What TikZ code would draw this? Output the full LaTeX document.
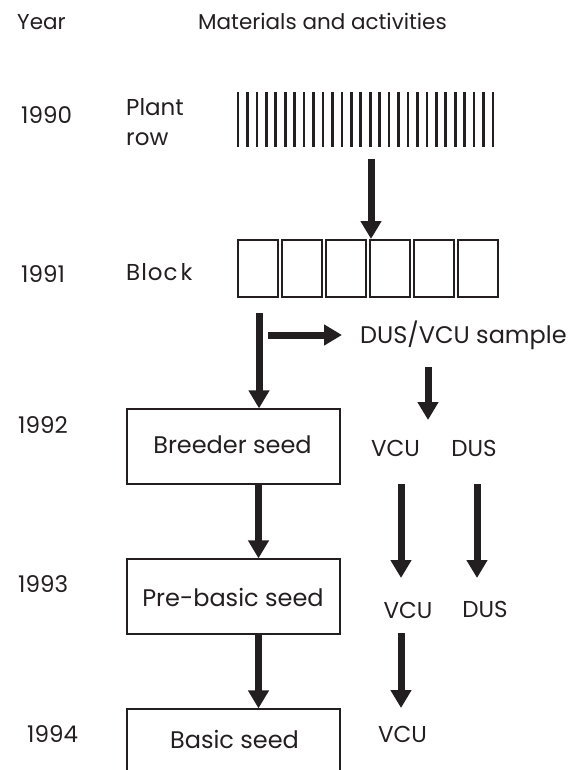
\documentclass[tikz,border=0pt]{standalone}
\usepackage{fontspec}
\setmainfont{Poppins}
\usetikzlibrary{arrows.meta}
\definecolor{ink}{HTML}{231F20}
\begin{document}
\begin{tikzpicture}[x=1pt,y=-1pt,
  lbl/.style={anchor=base west, inner sep=0pt, text=ink, font=\fontsize{23}{26}\selectfont},
  head/.style={anchor=base west, inner sep=0pt, text=ink, font=\fontsize{21.5}{26}\selectfont},
  txt/.style={anchor=base, inner sep=0pt, text=ink, font=\fontsize{23}{26}\selectfont},
  seedbox/.style={draw=ink, line width=1.3pt, minimum width=213pt, minimum height=75pt, inner sep=0pt},
  blockbox/.style={draw=ink, line width=2pt, minimum width=40pt, minimum height=57pt, inner sep=0pt},
  rowline/.style={draw=ink, line width=2.6pt},
  bigarrow/.style={draw=ink, line width=7pt, -{Triangle[width=20pt,length=18pt]}},
]
\useasboundingbox (0,0) rectangle (581,770);
\clip (0,0) rectangle (581,770);

% headings
\node[head] (year) at (17,30) {Year};
\node[head] (mat) at (198,30) {Materials and activities};

% year labels
\node[lbl] (y90) at (21,124) {1990};
\node[lbl] (y91) at (21,282) {1991};
\node[lbl] (y92) at (18,433) {1992};
\node[lbl] (y93) at (18,592) {1993};
\node[lbl] (y94) at (27,742) {1994};

% row labels
\node[lbl] (plant) at (126,116) {Plant};
\node[lbl] (row) at (126,146) {row};
\node[lbl] (block) at (126,280) {B\kern1pt l\kern1pt o\kern1pt c\kern3pt k};

% plant rows
\foreach \i in {0,...,27} \draw[rowline] ({238+\i*9.444},92) -- ({238+\i*9.444},147);
\node[inner sep=0pt, minimum width=257pt, minimum height=55pt] (plantrow) at (365.5,119.5) {};

% blocks
\foreach \i in {1,...,6} \node[blockbox] (b\i) at ({214+\i*44},268.5) {};

% seed boxes
\node[seedbox] (breeder) at (233.5,446.5) {};
\node[txt,font=\fontsize{24}{26}\selectfont] (breedert) at (232.5,453) {Breeder seed};
\node[seedbox] (prebasic) at (233.5,596.5) {};
\node[txt,font=\fontsize{24}{26}\selectfont] (prebasict) at (233,606) {Pre-basic seed};
\node[seedbox] (basic) at (233.5,746.5) {};
\node[txt,font=\fontsize{24}{26}\selectfont] (basict) at (234.5,748) {Basic seed};

% tests
\node[lbl,font=\fontsize{24}{26}\selectfont] (sample) at (360,343) {DUS/VCU sample};
\node[txt] (vcuA) at (395.5,456) {VCU};
\node[txt] (dusA) at (474,456) {DUS};
\node[txt] (vcuB) at (408,618) {VCU};
\node[txt] (dusB) at (485,617) {DUS};
\node[txt] (vcuC) at (402.5,742) {VCU};

% arrow end points
\coordinate (p1) at (371,159);
\coordinate (bl) at (259,313);
\coordinate (hs) at (268,335);
\coordinate (he) at (342,335);
\coordinate (s1) at (428,367);
\coordinate (s2) at (428,420);
\coordinate (v1) at (401,484);
\coordinate (v2) at (401,578);
\coordinate (d1) at (477,484);
\coordinate (d2) at (477,578);
\coordinate (v3) at (401,633);
\coordinate (v4) at (401,708);

% arrows
\draw[bigarrow] (p1) -- (p1 |- b4.north);
\draw[bigarrow] (bl) -- (bl |- breeder.north);
\draw[bigarrow] (hs) -- (he);
\draw[bigarrow] (s1) -- (s2);
\draw[bigarrow] ([xshift=25pt]breeder.south) -- ([xshift=25pt]prebasic.north);
\draw[bigarrow] ([xshift=25pt]prebasic.south) -- ([xshift=25pt]basic.north);
\draw[bigarrow] (v1) -- (v2);
\draw[bigarrow] (d1) -- (d2);
\draw[bigarrow] (v3) -- (v4);
\end{tikzpicture}
\end{document}
